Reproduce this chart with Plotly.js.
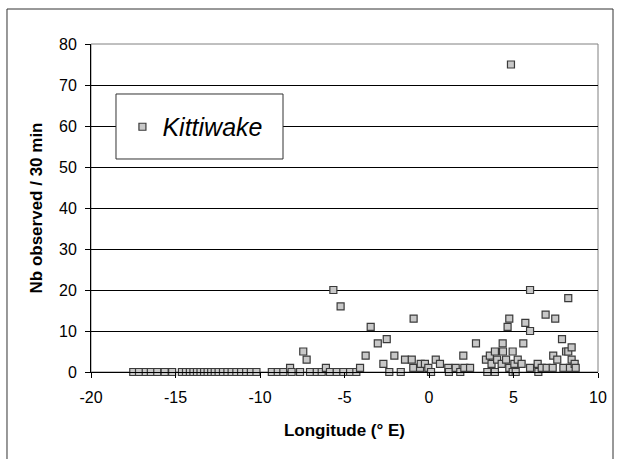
<!DOCTYPE html>
<html>
<head>
<meta charset="utf-8">
<script src="https://cdn.plot.ly/plotly-3.0.1.min.js"></script>
<style>html,body{margin:0;padding:0;background:#fff;}#chart{width:618px;height:459px;}</style>
</head>
<body>
<div id="chart"></div>
<script>
// Longitude (° E) of each observation
var longitude = [
  -17.5, -17.16, -16.76, -16.46, -16.08, -15.64, -15.2,
  -14.62, -14.38, -14.15, -13.94, -13.73, -13.52, -13.31, -13.10, -12.89, -12.68,
  -12.45, -12.19, -11.93, -11.68, -11.40, -11.12, -10.82, -10.54, -10.21,
  -9.30, -8.95, -8.62, -8.22, -8.13, -7.63, -7.44, -7.24, -7.04, -6.64, -6.35,
  -6.10, -5.86, -5.66, -5.46, -5.23, -5.07, -4.67, -4.30, -4.08, -3.75, -3.45,
  -3.03, -2.70, -2.50, -2.35, -2.05, -1.67, -1.42, -1.02, -0.91, -0.93, -0.53,
  -0.49, -0.24, -0.04, 0.12, 0.40, 0.65, 1.14, 1.18, 1.58, 1.85, 2.03, 2.09,
  2.43, 2.78, 3.37, 3.45, 3.60, 3.70, 3.90, 3.90, 4.03, 4.30, 4.36, 4.38, 4.56,
  4.65, 4.75, 4.75, 4.85, 4.95, 4.95, 5.05, 5.13, 5.25, 5.48, 5.58, 5.70, 5.98,
  5.98, 5.98, 6.43, 6.47, 6.67, 6.90, 6.96, 7.32, 7.35, 7.47, 7.59, 7.87, 7.95,
  8.11, 8.24, 8.24, 8.34, 8.44, 8.44, 8.62, 8.68
];
// Number of kittiwakes observed per 30 min
var observed = [
  0, 0, 0, 0, 0, 0, 0,
  0, 0, 0, 0, 0, 0, 0, 0, 0, 0,
  0, 0, 0, 0, 0, 0, 0, 0, 0,
  0, 0, 0, 1, 0, 0, 5, 3, 0, 0, 0,
  1, 0, 20, 0, 16, 0, 0, 0, 1, 4, 11,
  7, 2, 8, 0, 4, 0, 3, 3, 13, 1, 1,
  2, 2, 1, 0, 3, 2, 1, 0, 1, 0, 4, 1,
  1, 7, 3, 0, 4, 2, 5, 0, 3, 2, 7, 5, 3,
  11, 13, 1, 75, 5, 0, 2, 0, 3, 2, 7, 12, 20,
  10, 1, 2, 0, 1, 14, 1, 1, 4, 13, 3, 8, 1,
  5, 18, 5, 1, 6, 3, 2, 1
];
var seriesName = 'Kittiwake';
var xTickValues = [-20, -15, -10, -5, 0, 5, 10];
var yTickValues = [0, 10, 20, 30, 40, 50, 60, 70, 80];

var FONT = 'Liberation Sans, Arial, sans-serif';

var trace = {
  type: 'scatter',
  mode: 'markers',
  name: seriesName,
  x: longitude,
  y: observed,
  cliponaxis: false,
  marker: {symbol: 'square', size: 7, color: '#c8c8c8', line: {color: '#3a3a3a', width: 1.2}},
  showlegend: true
};

var layout = {
  width: 618,
  height: 459,
  margin: {l: 91, r: 20, t: 44, b: 87, pad: 0},
  paper_bgcolor: '#ffffff',
  plot_bgcolor: '#ffffff',
  font: {family: FONT, color: '#000', size: 16},
  showlegend: true,
  hovermode: false,
  xaxis: {
    range: [-20, 10],
    tickvals: xTickValues,
    ticktext: xTickValues.map(String),
    showgrid: false,
    zeroline: false,
    showline: true,
    linecolor: '#000',
    linewidth: 1,
    ticks: 'outside',
    ticklen: 5,
    tickcolor: '#000',
    tickfont: {family: FONT, size: 16, color: '#000'},
    ticklabelstandoff: 6,
    title: {text: 'Longitude (° E)', font: {family: FONT, size: 17, color: '#000', weight: 'bold'}, standoff: 18},
    automargin: false
  },
  yaxis: {
    range: [0, 80],
    tickvals: yTickValues,
    ticktext: yTickValues.map(String),
    showgrid: true,
    gridcolor: '#000',
    gridwidth: 1,
    zeroline: false,
    showline: true,
    linecolor: '#000',
    linewidth: 1,
    ticks: 'outside',
    ticklen: 5,
    tickcolor: '#000',
    tickfont: {family: FONT, size: 16, color: '#000'},
    ticklabelstandoff: 5,
    title: {text: 'Nb observed / 30 min', font: {family: FONT, size: 17, color: '#000', weight: 'bold'}, standoff: 12},
    automargin: false
  },
  legend: {
    x: 0.062,
    xanchor: 'left',
    y: 0.747,
    yanchor: 'middle',
    bgcolor: 'rgba(0,0,0,0)',
    borderwidth: 0,
    font: {family: FONT, size: 25, color: '#000', style: 'italic'}
  },
  shapes: [
    {type: 'rect', xref: 'paper', yref: 'paper', x0: 0, x1: 1, y0: 0, y1: 1,
     line: {color: '#808080', width: 1}, fillcolor: 'rgba(0,0,0,0)', layer: 'below'},
    {type: 'rect', xref: 'paper', yref: 'paper', x0: 0.0493, x1: 0.3787, y0: 0.6494, y1: 0.8476,
     line: {color: '#333', width: 1}, fillcolor: '#ffffff', layer: 'above'},
    {type: 'rect', xref: 'paper', yref: 'paper', x0: -0.1657, x1: 1.0296, y0: -0.30, y1: 1.1067,
     line: {color: '#333', width: 1}, fillcolor: 'rgba(0,0,0,0)', layer: 'above'}
  ]
};

Plotly.newPlot('chart', [trace], layout, {displayModeBar: false, staticPlot: true});
</script>
</body>
</html>
